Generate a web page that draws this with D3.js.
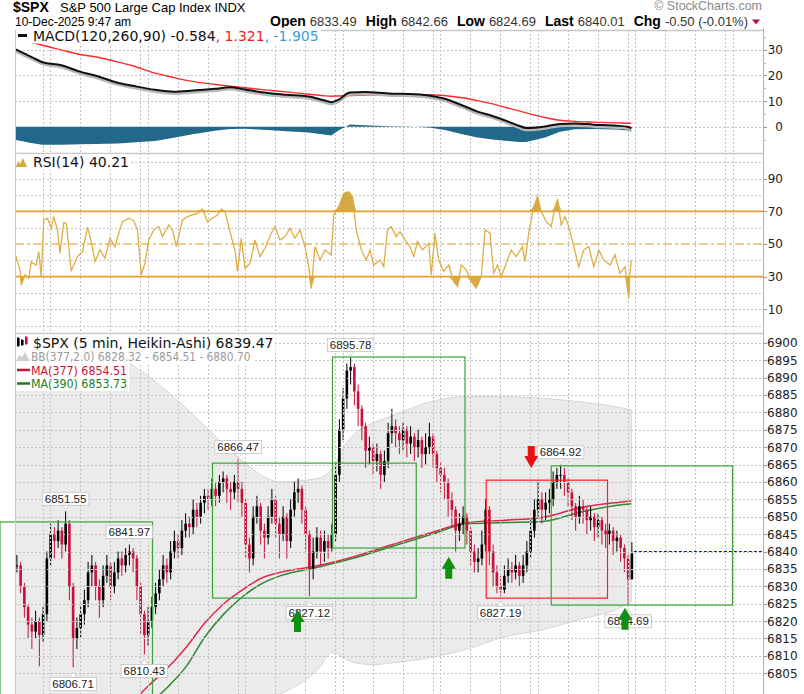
<!DOCTYPE html>
<html>
<head>
<meta charset="utf-8">
<title>$SPX 5 min Heikin-Ashi</title>
<script src="https://cdn.jsdelivr.net/npm/d3@7"></script>
<style>
  body { margin: 0; background: #fff; }
  svg { display: block; }
</style>
</head>
<body>
<script>
// ---- price data: one Heikin-Ashi candle per 3 five-minute bars ----
var pxClose = [
 6836,6830,6824,6819,6817,6820,6816,6822,6838,6845,
 6843,6846,6842,6848,6830,6815,6818,6822,6826,6834,
 6836,6830,6826,6833,6836,6830,6834,6838,6836,6839,
 6840,6838,6830,6822,6816,6820,6824,6828,6832,6836,
 6834,6840,6843,6841,6846,6848,6847,6852,6850,6854,
 6856,6855,6858,6856,6860,6861,6858,6857,6860,6858,
 6854,6842,6838,6850,6853,6846,6844,6850,6855,6848,
 6845,6850,6843,6852,6857,6858,6852,6845,6835,6840,
 6844,6840,6843,6841,6845,6862,6875,6884,6892,6893,
 6886,6881,6876,6869,6870,6866,6868,6862,6866,6874,
 6876,6874,6872,6875,6871,6873,6870,6872,6868,6870,
 6873,6868,6864,6862,6860,6855,6852,6846,6848,6850,
 6846,6840,6837,6838,6842,6852,6840,6834,6830,6829,
 6833,6835,6834,6836,6833,6836,6840,6846,6852,6855,
 6852,6854,6855,6860,6862,6862,6860,6857,6853,6850,
 6853,6852,6849,6850,6847,6849,6846,6845,6846,6843,
 6844,6841,6838,6832,6839.47
];
var pxHigh = [
 6839,6837,6831,6825,6821,6823,6821,6824,6840,6848,
 6847,6849,6847,6851.55,6849,6831,6821,6825,6829,6837,
 6839,6837,6832,6836,6839,6837,6837,6840,6840,6841,
 6841.97,6841,6839,6831,6823,6824,6827,6831,6835,6839,
 6838,6843,6846,6845,6849,6851,6850,6855,6854,6856,
 6858,6858,6861,6860,6862,6863,6862,6860,6862,6866.47,
 6860,6855,6844,6853,6856,6854,6848,6853,6858,6856,
 6850,6853,6851,6855,6860,6861,6859,6853,6846,6844,
 6847,6846,6846,6845,6848,6865,6878,6887,6894,6895.78,
 6894,6888,6882,6877,6873,6871,6871,6869,6869,6877,
 6881,6878,6876,6877,6876,6876,6874,6875,6873,6874,
 6877,6874,6869,6866,6864,6861,6857,6853,6851,6853,
 6851,6847,6842,6841,6846,6855,6853,6842,6836,6833,
 6836,6838,6837,6839,6837,6839,6843,6849,6855,6860,
 6857,6857,6858,6863,6864,6864.92,6864,6861,6858,6854,
 6856,6855,6853,6853,6851,6851,6850,6848,6848,6847,
 6846,6845,6842,6839,6842.66
];
var pxLow = [
 6834,6828,6821,6815,6812,6815,6807,6814,6820,6836,
 6838,6841,6838,6840,6826,6806.71,6812,6815,6819,6824,
 6830,6826,6821,6824,6831,6826,6828,6832,6833,6834,
 6836,6834,6826,6816,6810.43,6813,6818,6822,6826,6830,
 6831,6832,6838,6838,6839,6844,6844,6845,6847,6848,
 6851,6852,6853,6853,6854,6857,6854,6852,6855,6854,
 6850,6838,6834,6836,6848,6842,6838,6842,6848,6844,
 6838,6843,6838,6841,6850,6854,6848,6840,6827.12,6832,
 6838,6836,6837,6838,6840,6843,6860,6872,6881,6888,
 6882,6876,6872,6864,6865,6862,6863,6858,6860,6864,
 6871,6870,6868,6869,6867,6868,6866,6867,6864,6865,
 6868,6864,6860,6857,6855,6850,6847,6840,6843,6845,
 6842,6836,6834,6834,6836,6840,6836,6830,6828,6827.19,
 6828,6831,6831,6832,6830,6831,6834,6838,6844,6850,
 6848,6849,6851,6853,6858,6858,6856,6853,6849,6846,
 6848,6848,6845,6846,6843,6844,6842,6841,6842,6839,
 6840,6837,6834,6824.69,6832
];
var lastPrice = 6840.01;

// Bollinger bands (377,2) and moving averages, time in 5-min bars
var bbT     = [0,32,62,92,122,152,182,212,242,254,263,272,287,302,332,362,392,422,452,482,493];
var bbUpper = [6908,6904,6899,6894,6886,6876,6866,6860,6861,6864,6870,6874,6877,6879,6883,6884.5,6884.5,6884,6883,6881.5,6880.7];
var bbLower = [6785,6785,6786,6788,6790,6792,6795,6799,6806,6811,6809.5,6808,6807.5,6808,6809.5,6812,6815.5,6817.5,6820.5,6823.5,6825.5];
var maT    = [92,107,122,137,152,167,182,197,212,242,272,302,332,362,392,422,452,482,493];
var ma377  = [6796,6801.5,6806.5,6812.5,6819.5,6825,6829,6832.3,6834,6835.9,6838.6,6842,6845.3,6848.3,6849,6849.8,6852.6,6854.1,6854.51];
var ma390  = [6790,6796,6801,6807,6815.5,6822,6827,6830.7,6833,6835.5,6838.2,6841.5,6844.8,6848,6848.3,6848.6,6851.3,6853.3,6853.73];

// MACD(120,260,90)
var macdT      = [0,13,22,37,52,64,82,94,112,127,142,160,172,184,202,217,235,247,253,259,268,280,301,316,331,343,358,370,382,394,403,409,424,436,448,463,481,490,493];
var macdLine   = [30.3,27.3,25.2,24.0,21.5,20.0,17.2,16.0,14.4,13.7,14.1,14.8,15.4,14.5,13.2,12.5,11.8,10.3,9.6,10.6,13.4,13.6,12.9,12.8,12.2,11.0,8.3,5.9,4.2,2.1,0.4,-0.5,0.1,1.1,1.3,0.8,0.4,0.0,-0.584];
var macdSignal = [34.0,33.0,31.8,30.0,28.2,27.3,25.3,23.8,20.9,19.2,17.7,16.5,15.8,15.2,14.3,13.6,12.7,12.1,11.9,12.0,12.2,12.4,12.5,12.5,12.5,12.2,11.3,10.2,8.9,7.3,6.2,5.4,3.6,2.5,2.1,1.8,1.5,1.35,1.321];
var macdHist   = [-5.1,-6.4,-7.0,-7.0,-6.9,-6.8,-6.6,-6.2,-5.6,-4.3,-2.9,-1.6,-0.9,-0.8,-1.3,-1.8,-2.3,-3.0,-3.4,-1.4,0.9,0.6,0.2,0.1,-0.3,-1.2,-2.9,-4.2,-5.0,-5.6,-6.0,-6.0,-4.2,-2.0,-1.0,-0.9,-1.1,-1.5,-1.905];

// RSI(14)
var rsiT = [0,4,5,8,11,13,17,19,21,23,26,29,31,34,36,39,41,45,50,54,58,61,64,68,72,76,80,83,86,91,
 95,98,101,104,107,111,115,118,123,126,129,134,138,142,146,150,154,158,162,165,168,173,176,178,181,184,188,192,196,200,
 205,208,212,216,220,224,228,232,235,237,240,244,248,253,255,259,263,267,270,273,277,281,284,287,292,295,298,301,305,308,
 312,316,319,322,326,331,333,336,339,343,347,351,354,357,361,365,369,373,376,380,383,386,389,393,397,401,406,408,411,415,
 418,421,425,429,432,434,437,440,443,447,451,455,459,463,467,471,476,480,484,488,491,492,493];
var rsiVal = [44.3,34,24.9,31,29,39,37,45.3,30,64.8,65.8,59.6,66.8,58.6,44.3,63.1,62.7,33.7,42.3,45.3,
 60.3,51.5,39.2,46.3,41.2,53.5,48.4,56.6,63.7,65.8,64.3,58.6,31,38.2,52.5,58.6,60.7,54.5,61.7,58.6,
 48.4,64.8,66.8,67.8,68.8,71.3,63.7,65.8,67.8,71.3,69.9,54.5,46.3,33.1,53.5,35.1,38.2,52.5,42.3,47.4,
 56.6,60.7,52.5,54.5,59.6,53.5,58.6,48.4,36.1,22.8,48.4,40.2,46.3,43.3,67.8,72.9,81.1,82.1,79.1,58.6,
 46.3,40.2,46.3,37.1,40.2,36.1,58.6,60.7,54.5,57.6,52.5,48.4,42.3,51.5,46.3,50.4,31,56.6,40.2,33.1,
 37.1,26.9,23.9,37.1,34.1,26.9,22.8,30,58.6,56.6,32,37.1,30,38.2,46.3,42.3,48.4,39.2,56.6,72.9,
 79.1,69.9,63.7,60.7,72.9,77.4,61.7,66.8,60.7,48.4,36.1,46.3,48.4,36.1,46.3,40.2,37.1,43.3,32,36.1,
 16.7,32,40.21];

// annotations
var boxT0 = [-12, 158, 254, 377, 429];
var boxT1 = [110, 321, 360, 474, 574];
var boxLo = [6790, 6826.6, 6841, 6826.6, 6824.6];
var boxHi = [6848.5, 6865.4, 6895.9, 6860.5, 6864.6];
var boxCol = ["#3aa43a", "#3aa43a", "#3aa43a", "#ff2020", "#3aa43a"];
var arrowT = [226, 347, 488, 413];
var arrowP = [6823.2, 6838.5, 6823.8, 6864];
var arrowDir = ["up", "up", "up", "down"];
var extremeIdx  = [13, 15, 30, 34, 59, 78, 89, 129, 145, 163];
var extremeKind = ["hi","lo","hi","lo","hi","lo","hi","lo","hi","lo"];

// axes / grid
var dayStarts = [22, 100, 178, 256, 334, 412, 490, 568];
var hourOffsets = [0, 6, 30, 54];
var priceTicks = [6805,6810,6815,6820,6825,6830,6835,6840,6845,6850,6855,6860,6865,6870,6875,6880,6885,6890,6895,6900];
var macdTicks = [0, 10, 20, 30];
var macdMinor = [-5, 5, 15, 25, 35];
var rsiTicks = [10, 30, 50, 70, 90];
var rsiGrid = [0, 10, 20, 40, 60, 80, 90, 100];

var quoteNames = ["Open", "High", "Low", "Last", "Chg"];
var quoteVals = ["6833.49", "6842.66", "6824.69", "6840.01", "-0.50 (-0.01%)"];

// ---------------------------------------------------------------
var SANS = "Arial, 'Liberation Sans', sans-serif";
var DJ = "'DejaVu Sans', Verdana, sans-serif";
var DJC = "'DejaVu Sans Condensed', 'DejaVu Sans', sans-serif";

var W = 804, H = 694, L = 15, R = 763;
var svg = d3.select("body").append("svg").attr("width", W).attr("height", H)
    .style("font-family", SANS);

var x = d3.scaleLinear().domain([0, 598.4]).range([L, R]);
var yM = d3.scaleLinear().domain([-10.27, 37.77]).range([153, 30]);
var yR = d3.scaleLinear().domain([-4.6, 105.8]).range([333, 153]);
var yP = d3.scaleLinear().domain([6799.05, 6902.79]).range([694, 333]);

var gridBars = [];
dayStarts.forEach(function (d) {
    hourOffsets.forEach(function (o) { if (d + o < 598) gridBars.push(d + o); });
});

var defs = svg.append("defs");
function clip(id, y0, y1) {
    defs.append("clipPath").attr("id", id).append("rect")
        .attr("x", L).attr("y", y0).attr("width", R - L).attr("height", y1 - y0);
}
clip("cM", 30, 153); clip("cR", 153, 333); clip("cP", 333, 694);

function crisp(v) { return Math.round(v) + 0.5; }

function vgrid(y0, y1) {
    svg.append("g").selectAll("line").data(gridBars).enter().append("line")
        .attr("x1", function (d) { return crisp(x(d)); })
        .attr("x2", function (d) { return crisp(x(d)); })
        .attr("y1", y0).attr("y2", y1)
        .attr("stroke", "#c2c2c2").attr("stroke-dasharray", "2,2");
}
function hgrid(vals, sc) {
    svg.append("g").selectAll("line").data(vals).enter().append("line")
        .attr("x1", L).attr("x2", R)
        .attr("y1", function (d) { return crisp(sc(d)); })
        .attr("y2", function (d) { return crisp(sc(d)); })
        .attr("stroke", "#c2c2c2").attr("stroke-dasharray", "2,2");
}

// ---------------- header ----------------
svg.append("text").attr("x", 13).attr("y", 12).style("font", "bold 14px " + SANS).text("$SPX");
svg.append("text").attr("x", 60).attr("y", 11.5).style("font", "13px " + SANS).text("S&P 500 Large Cap Index INDX");
svg.append("text").attr("x", 762).attr("y", 10).attr("text-anchor", "end")
    .style("font", "12.5px " + SANS).attr("fill", "#8a8a8a").text("\u00a9 StockCharts.com");
svg.append("text").attr("x", 15).attr("y", 25.5).style("font", "12px " + SANS).text("10-Dec-2025 9:47 am");

var qx = 270;
quoteNames.forEach(function (n, i) {
    var a = svg.append("text").attr("x", qx).attr("y", 25.5).style("font", "bold 14px " + SANS).text(n);
    qx += a.node().getComputedTextLength() + 4;
    var b = svg.append("text").attr("x", qx).attr("y", 25.5).style("font", "13px " + SANS)
        .attr("fill", "#333").text(quoteVals[i]);
    qx += b.node().getComputedTextLength() + 9;
});
svg.append("path").attr("d", "M" + (qx - 5) + ",19.5 h8 l-4,5 z").attr("fill", "#b0103a");

// ---------------- MACD panel ----------------
hgrid(macdTicks, yM);
vgrid(30, 153);
var gM = svg.append("g").attr("clip-path", "url(#cM)");
var macdRows = macdT.map(function (t, i) {
    return { t: t, m: macdLine[i], s: macdSignal[i], h: macdHist[i] };
});
gM.append("path").datum(macdRows)
    .attr("d", d3.area().x(function (d) { return x(d.t); })
        .y0(yM(0)).y1(function (d) { return yM(d.h); }))
    .attr("fill", "#21688a");
gM.append("path").datum(macdRows)
    .attr("d", d3.line().x(function (d) { return x(d.t); }).y(function (d) { return yM(d.s); }).curve(d3.curveMonotoneX))
    .attr("fill", "none").attr("stroke", "#ff2a2a").attr("stroke-width", 1.4);
gM.append("path").datum(macdRows)
    .attr("transform", "translate(0,1.5)")
    .attr("d", d3.line().x(function (d) { return x(d.t); }).y(function (d) { return yM(d.m); }).curve(d3.curveMonotoneX))
    .attr("fill", "none").attr("stroke", "#b8b8b8").attr("stroke-width", 3.5);
gM.append("path").datum(macdRows)
    .attr("d", d3.line().x(function (d) { return x(d.t); }).y(function (d) { return yM(d.m); }).curve(d3.curveMonotoneX))
    .attr("fill", "none").attr("stroke", "#111").attr("stroke-width", 2);

// ---------------- RSI panel ----------------
hgrid(rsiGrid, yR);
vgrid(153, 333);
var gR = svg.append("g").attr("clip-path", "url(#cR)");
var rsiRows = rsiT.map(function (t, i) { return { t: t, v: rsiVal[i] }; });
gR.append("path").datum(rsiRows)
    .attr("d", d3.area().x(function (d) { return x(d.t); })
        .y0(yR(70)).y1(function (d) { return yR(Math.max(d.v, 70)); }))
    .attr("fill", "#d3ab45");
gR.append("path").datum(rsiRows)
    .attr("d", d3.area().x(function (d) { return x(d.t); })
        .y0(yR(30)).y1(function (d) { return yR(Math.min(d.v, 30)); }))
    .attr("fill", "#d3ab45");
[70, 30].forEach(function (v) {
    gR.append("line").attr("x1", L).attr("x2", R).attr("y1", yR(v)).attr("y2", yR(v))
        .attr("stroke", "#e3a02a").attr("stroke-width", 1.6);
});
gR.append("line").attr("x1", L).attr("x2", R).attr("y1", yR(50)).attr("y2", yR(50))
    .attr("stroke", "#e8bd62").attr("stroke-width", 1.5).attr("stroke-dasharray", "9,3,3,3");
gR.append("path").datum(rsiRows)
    .attr("d", d3.line().x(function (d) { return x(d.t); }).y(function (d) { return yR(d.v); }))
    .attr("fill", "none").attr("stroke", "#deae45").attr("stroke-width", 1.3);

// ---------------- price panel ----------------
var gP = svg.append("g").attr("clip-path", "url(#cP)");
var bbRows = bbT.map(function (t, i) { return { t: t, u: bbUpper[i], l: bbLower[i] }; });
gP.append("path").datum(bbRows)
    .attr("d", d3.area().x(function (d) { return x(d.t); })
        .y0(function (d) { return yP(d.l); }).y1(function (d) { return yP(d.u); })
        .curve(d3.curveMonotoneX))
    .attr("fill", "#ebebeb").attr("stroke", "#d6d6d6").attr("stroke-width", 1);
hgrid(priceTicks, yP);
vgrid(333, 694);

var maLine = d3.line().x(function (d) { return x(d.t); }).y(function (d) { return yP(d.v); }).curve(d3.curveMonotoneX);
gP.append("path").datum(maT.map(function (t, i) { return { t: t, v: ma390[i] }; }))
    .attr("d", maLine).attr("fill", "none").attr("stroke", "#2f8a2f").attr("stroke-width", 1.5);
gP.append("path").datum(maT.map(function (t, i) { return { t: t, v: ma377[i] }; }))
    .attr("d", maLine).attr("fill", "none").attr("stroke", "#e0284e").attr("stroke-width", 1.5);

var candles = pxClose.map(function (c, i) {
    var o = i > 0 ? pxClose[i - 1] : c;
    return { t: 3 * i + 1.5, o: o, c: c, h: pxHigh[i], l: pxLow[i], up: c >= o };
});
var cg = gP.append("g");
cg.selectAll("line").data(candles).enter().append("line")
    .attr("x1", function (d) { return x(d.t); }).attr("x2", function (d) { return x(d.t); })
    .attr("y1", function (d) { return yP(d.h); }).attr("y2", function (d) { return yP(d.l); })
    .attr("stroke", function (d) { return d.up ? "#000" : "#c8103c"; }).attr("stroke-width", 1);
cg.selectAll("rect").data(candles).enter().append("rect")
    .attr("x", function (d) { return x(d.t) - 1.3; }).attr("width", 2.6)
    .attr("y", function (d) { return yP(Math.max(d.o, d.c)); })
    .attr("height", function (d) { return Math.max(1, Math.abs(yP(d.o) - yP(d.c))); })
    .attr("fill", function (d) { return d.up ? "#000" : "#c8103c"; });

// last price line
svg.append("line").attr("x1", x(candles[candles.length - 1].t) + 2).attr("x2", R)
    .attr("y1", crisp(yP(lastPrice))).attr("y2", crisp(yP(lastPrice)))
    .attr("stroke", "#0000ff").attr("stroke-width", 1.2).attr("stroke-dasharray", "3,2");

// annotation boxes
boxT0.forEach(function (t0, i) {
    var top = yP(boxHi[i]), bot = Math.min(yP(boxLo[i]), 700);
    svg.append("rect").attr("x", x(t0)).attr("y", top)
        .attr("width", x(boxT1[i]) - x(t0)).attr("height", bot - top)
        .attr("fill", "none").attr("stroke", boxCol[i]).attr("stroke-width", 1.2);
});

// extreme value labels
var lg = svg.append("g").style("font", "11.5px " + SANS);
extremeIdx.forEach(function (k, i) {
    var hi = extremeKind[i] === "hi";
    var v = hi ? pxHigh[k] : pxLow[k];
    var cx = x(3 * k + 1.5), vy = yP(v);
    var t = lg.append("text").attr("x", cx).attr("text-anchor", "middle").attr("fill", "#222").text(v.toFixed(2));
    var w = t.node().getComputedTextLength() + 5;
    var by = hi ? vy - 19 : vy + 10;
    t.attr("y", by + 10.5);
    lg.insert("rect", function () { return t.node(); })
        .attr("x", cx - w / 2).attr("y", by).attr("width", w).attr("height", 13)
        .attr("fill", "#fff").attr("stroke", "#c4c4c4").attr("stroke-width", 0.8);
    var p = hi ? [[cx - 4, vy - 6], [cx + 4, vy - 6], [cx, vy - 2]] : [[cx - 4, vy + 10], [cx + 4, vy + 10], [cx, vy + 5]];
    lg.append("path").attr("d", d3.line()(p) + "Z").attr("fill", "#fff").attr("stroke", "#c4c4c4").attr("stroke-width", 0.8);
});

// arrows
arrowT.forEach(function (t, i) {
    var cx = x(t), ty = yP(arrowP[i]);
    var s = arrowDir[i] === "up" ? 1 : -1;
    var pts = [[cx, ty], [cx + 7, ty + 12 * s], [cx + 3.5, ty + 12 * s], [cx + 3.5, ty + 22 * s],
               [cx - 3.5, ty + 22 * s], [cx - 3.5, ty + 12 * s], [cx - 7, ty + 12 * s]];
    svg.append("path").attr("d", d3.line()(pts) + "Z")
        .attr("fill", s > 0 ? "#109010" : "#e81212");
});

// ---------------- frames and right axis ----------------
[30, 153, 333].forEach(function (yy) {
    svg.append("line").attr("x1", L).attr("x2", R).attr("y1", yy + 0.5).attr("y2", yy + 0.5)
        .attr("stroke", "#c8c8c8").attr("stroke-width", 1.5);
});
svg.append("line").attr("x1", L + 0.5).attr("x2", L + 0.5).attr("y1", 30).attr("y2", H).attr("stroke", "#c8c8c8");
svg.append("line").attr("x1", R + 0.5).attr("x2", R + 0.5).attr("y1", 28).attr("y2", H).attr("stroke", "#b4b4b4");

function axisLabels(vals, sc, anchor, xx) {
    var g = svg.append("g").style("font", "12px " + DJ).attr("fill", "#222");
    vals.forEach(function (v) {
        g.append("line").attr("x1", R).attr("x2", R + 4).attr("y1", crisp(sc(v))).attr("y2", crisp(sc(v))).attr("stroke", "#999");
        g.append("text").attr("x", xx).attr("y", sc(v) + 4.5).attr("text-anchor", anchor).text(v);
    });
}
axisLabels(macdTicks, yM, "end", 783);
macdMinor.forEach(function (v) {
    svg.append("line").attr("x1", R).attr("x2", R + 3).attr("y1", crisp(yM(v))).attr("y2", crisp(yM(v))).attr("stroke", "#bbb");
});
axisLabels(rsiTicks, yR, "end", 783);
axisLabels(priceTicks, yP, "start", 767);

// ---------------- legends ----------------
function legend(xx, yy, font, parts) {
    var t = svg.append("text").attr("x", xx).attr("y", yy).style("font", font);
    parts.forEach(function (p) { t.append("tspan").attr("fill", p[1]).text(p[0]); });
    var bb = t.node().getBBox();
    svg.insert("rect", function () { return t.node(); })
        .attr("x", L + 1).attr("y", bb.y).attr("width", bb.x + bb.width - L + 1).attr("height", bb.height)
        .attr("fill", "#fff");
    return t;
}
legend(33, 40.5, "14px " + DJ, [["MACD(120,260,90) -0.584", "#111"], [", 1.321", "#f02020"], [", -1.905", "#3c9bd6"]]);
svg.append("line").attr("x1", 18).attr("x2", 27).attr("y1", 35.5).attr("y2", 35.5).attr("stroke", "#111").attr("stroke-width", 3);

legend(33, 167, "14px " + DJ, [["RSI(14) 40.21", "#111"]]);
svg.append("path").attr("d", "M16,167 L18,161 L20,164 L23,158 L27,167 Z").attr("fill", "#d6aa3c");

legend(33, 347.5, "14px " + DJ, [["$SPX (5 min, Heikin-Ashi) 6839.47", "#111"]]);
[[17, 338, 346, "#000"], [21, 340, 345, "#000"], [25, 337, 344, "#c8103c"]].forEach(function (c) {
    svg.append("line").attr("x1", c[0] + 1).attr("x2", c[0] + 1).attr("y1", c[1] - 1).attr("y2", c[2] + 1).attr("stroke", c[3]);
    svg.append("rect").attr("x", c[0]).attr("y", c[1]).attr("width", 2.6).attr("height", c[2] - c[1]).attr("fill", c[3]);
});
legend(31, 360.8, "11.8px " + DJC, [["BB(377,2.0) 6828.32 - 6854.51 - 6880.70", "#9a9a9a"]]);
svg.append("path").attr("d", "M16,361 L19,355 L22,357 L25,352 L30,361 Z").attr("fill", "#cfcfcf");
legend(31, 374.5, "12.3px " + DJC, [["MA(377) 6854.51", "#d0103a"]]);
svg.append("line").attr("x1", 17).attr("x2", 30).attr("y1", 370).attr("y2", 370).attr("stroke", "#d0103a").attr("stroke-width", 2.5);
legend(31, 388, "12.3px " + DJC, [["MA(390) 6853.73", "#1f7a1f"]]);
svg.append("line").attr("x1", 17).attr("x2", 30).attr("y1", 383.5).attr("y2", 383.5).attr("stroke", "#1f7a1f").attr("stroke-width", 2.5);
</script>
</body>
</html>
